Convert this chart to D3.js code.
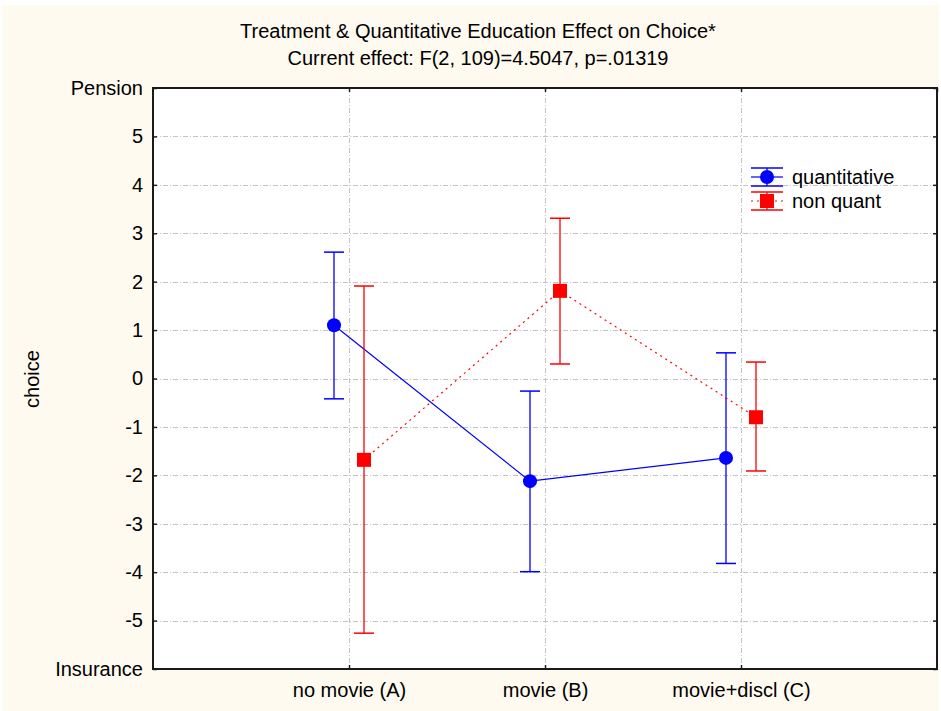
<!DOCTYPE html>
<html>
<head>
<meta charset="utf-8">
<script src="https://cdn.jsdelivr.net/npm/d3@7"></script>
<style>
  html, body { margin: 0; padding: 0; background: #ffffff; }
  svg { display: block; font-family: "Liberation Sans", Arial, sans-serif; }
</style>
</head>
<body>
<svg id="chart" width="941" height="711"></svg>
<script>
// Treatment groups along the x axis
const categories = ["no movie (A)", "movie (B)", "movie+discl (C)"];

// Group means and 95% interval bounds for each education group
const quantMean  = [1.10, -2.12, -1.64];
const quantLower = [-0.42, -3.99, -3.82];
const quantUpper = [2.61, -0.26, 0.53];

const nonQuantMean  = [-1.68, 1.81, -0.80];
const nonQuantLower = [-5.26, 0.30, -1.91];
const nonQuantUpper = [1.91, 3.31, 0.34];

const seriesNames = ["quantitative", "non quant"];

// Y axis tick values and labels (end ticks carry the scale anchors)
const yTickValues = [-6, -5, -4, -3, -2, -1, 0, 1, 2, 3, 4, 5, 6];
const yTickLabels = ["Insurance", "-5", "-4", "-3", "-2", "-1", "0", "1", "2", "3", "4", "5", "Pension"];

const svg = d3.select("#chart");
const W = 941, H = 711;
const margin = { left: 153, right: 4, top: 88, bottom: 42 };
const plotW = W - margin.left - margin.right;
const plotH = H - margin.top - margin.bottom;
const fontSize = 20;

// Cream page background
svg.append("rect").attr("x", 3).attr("y", 5).attr("width", 936).attr("height", 706)
  .attr("fill", "#fffaef");

// Titles
svg.append("text").attr("x", 478).attr("y", 38).attr("text-anchor", "middle")
  .attr("font-size", fontSize).attr("fill", "#000")
  .text("Treatment & Quantitative Education Effect on Choice*");
svg.append("text").attr("x", 478).attr("y", 65).attr("text-anchor", "middle")
  .attr("font-size", fontSize).attr("fill", "#000")
  .text("Current effect: F(2, 109)=4.5047, p=.01319");

const g = svg.append("g").attr("transform", `translate(${margin.left},${margin.top})`);

// Scales: categories sit at positions 1..3 of a 0..4 range
const x = d3.scaleLinear().domain([0, categories.length + 1]).range([0, plotW]);
const y = d3.scaleLinear().domain([-6, 6]).range([plotH, 0]);
const offset = 15;

// Plot area
g.append("rect").attr("width", plotW).attr("height", plotH).attr("fill", "#ffffff");

// Grid lines
const gridDash = "5,2,1,2";
const gridColor = "#c4c4c4";
g.append("g").selectAll("line").data(yTickValues.filter(v => v > -6 && v < 6)).join("line")
  .attr("x1", 0).attr("x2", plotW)
  .attr("y1", d => Math.round(y(d)) + 0.5).attr("y2", d => Math.round(y(d)) + 0.5)
  .attr("stroke", gridColor).attr("stroke-width", 1).attr("stroke-dasharray", gridDash);
g.append("g").selectAll("line").data(categories.map((c, i) => i + 1).concat([4])).join("line")
  .attr("x1", d => Math.round(x(d)) + 0.5).attr("x2", d => Math.round(x(d)) + 0.5)
  .attr("y1", 0).attr("y2", plotH)
  .attr("stroke", gridColor).attr("stroke-width", 1).attr("stroke-dasharray", gridDash);

// Axes (ticks pointing into the plot)
const yAxis = d3.axisLeft(y).tickValues(yTickValues)
  .tickFormat((d, i) => yTickLabels[i]).tickSizeInner(-4).tickSizeOuter(0).tickPadding(10);
const yAxisG = g.append("g").call(yAxis);
yAxisG.select(".domain").remove();
yAxisG.selectAll(".tick line").attr("stroke", "#222").attr("stroke-width", 1.5);
yAxisG.selectAll(".tick text").attr("font-size", fontSize).attr("fill", "#000")
  .attr("font-family", "Liberation Sans, Arial, sans-serif");

const yAxisR = d3.axisRight(y).tickValues(yTickValues).tickFormat("").tickSizeInner(-4).tickSizeOuter(0);
const yAxisRG = g.append("g").attr("transform", `translate(${plotW},0)`).call(yAxisR);
yAxisRG.select(".domain").remove();
yAxisRG.selectAll(".tick line").attr("stroke", "#222").attr("stroke-width", 1.5);

const xAxis = d3.axisBottom(x).tickValues([1, 2, 3])
  .tickFormat(d => categories[d - 1]).tickSizeInner(-4).tickSizeOuter(0).tickPadding(14);
const xAxisG = g.append("g").attr("transform", `translate(0,${plotH})`).call(xAxis);
xAxisG.select(".domain").remove();
xAxisG.selectAll(".tick line").attr("stroke", "#222").attr("stroke-width", 1.5);
xAxisG.selectAll(".tick text").attr("font-size", fontSize).attr("fill", "#000")
  .attr("font-family", "Liberation Sans, Arial, sans-serif");

const xAxisT = d3.axisTop(x).tickValues([1, 2, 3, 4]).tickFormat("").tickSizeInner(-4).tickSizeOuter(0);
const xAxisTG = g.append("g").call(xAxisT);
xAxisTG.select(".domain").remove();
xAxisTG.selectAll(".tick line").attr("stroke", "#222").attr("stroke-width", 1.5);

// Plot frame
g.append("rect").attr("width", plotW).attr("height", plotH)
  .attr("fill", "none").attr("stroke", "#1a1a1a").attr("stroke-width", 2);

// Y axis title
svg.append("text").attr("transform", "translate(39,379) rotate(-90)")
  .attr("text-anchor", "middle").attr("font-size", fontSize).attr("fill", "#000").text("choice");

// Series definitions
const series = [
  { name: seriesNames[0], mean: quantMean, lower: quantLower, upper: quantUpper,
    color: "#0000ff", dash: null, shift: -offset, marker: "circle" },
  { name: seriesNames[1], mean: nonQuantMean, lower: nonQuantLower, upper: nonQuantUpper,
    color: "#ff0000", dash: "2,4", shift: offset, marker: "square" }
];

const capHalf = 10;
series.forEach(s => {
  const pts = s.mean.map((m, i) => ({ cx: x(i + 1) + s.shift, m, lo: s.lower[i], hi: s.upper[i] }));
  const sg = g.append("g");

  // Connecting line
  sg.append("path")
    .attr("d", d3.line().x(d => d.cx).y(d => y(d.m))(pts))
    .attr("fill", "none").attr("stroke", s.color).attr("stroke-width", 1.2)
    .attr("stroke-dasharray", s.dash);

  // Error bars
  sg.selectAll(".whisker").data(pts).join("line")
    .attr("x1", d => d.cx).attr("x2", d => d.cx)
    .attr("y1", d => y(d.lo)).attr("y2", d => y(d.hi))
    .attr("stroke", s.color).attr("stroke-width", 1.3);
  sg.selectAll(".capHi").data(pts).join("line")
    .attr("x1", d => d.cx - capHalf).attr("x2", d => d.cx + capHalf)
    .attr("y1", d => y(d.hi)).attr("y2", d => y(d.hi))
    .attr("stroke", s.color).attr("stroke-width", 1.5);
  sg.selectAll(".capLo").data(pts).join("line")
    .attr("x1", d => d.cx - capHalf).attr("x2", d => d.cx + capHalf)
    .attr("y1", d => y(d.lo)).attr("y2", d => y(d.lo))
    .attr("stroke", s.color).attr("stroke-width", 1.5);

  // Markers
  if (s.marker === "circle") {
    sg.selectAll(".mk").data(pts).join("circle")
      .attr("cx", d => d.cx).attr("cy", d => y(d.m)).attr("r", 7).attr("fill", s.color);
  } else {
    sg.selectAll(".mk").data(pts).join("rect")
      .attr("x", d => d.cx - 7).attr("y", d => y(d.m) - 7)
      .attr("width", 14).attr("height", 14).attr("fill", s.color);
  }
});

// Legend
const legend = svg.append("g").attr("transform", "translate(751,177)");
series.forEach((s, i) => {
  const lg = legend.append("g").attr("transform", `translate(0,${i * 24})`);
  [-9, 9].forEach(dy => lg.append("line").attr("x1", 0).attr("x2", 32).attr("y1", dy).attr("y2", dy)
    .attr("stroke", s.color).attr("stroke-width", 1.5));
  lg.append("line").attr("x1", 0).attr("x2", 32).attr("y1", 0).attr("y2", 0)
    .attr("stroke", s.color).attr("stroke-width", 1.2).attr("stroke-dasharray", s.dash);
  lg.append("line").attr("x1", 16).attr("x2", 16).attr("y1", -9).attr("y2", 9)
    .attr("stroke", s.color).attr("stroke-width", 1.3);
  if (s.marker === "circle") {
    lg.append("circle").attr("cx", 16).attr("cy", 0).attr("r", 7).attr("fill", s.color);
  } else {
    lg.append("rect").attr("x", 9).attr("y", -7).attr("width", 14).attr("height", 14).attr("fill", s.color);
  }
  lg.append("text").attr("x", 41).attr("y", 7).attr("font-size", fontSize).attr("fill", "#000").text(s.name);
});
</script>
</body>
</html>
